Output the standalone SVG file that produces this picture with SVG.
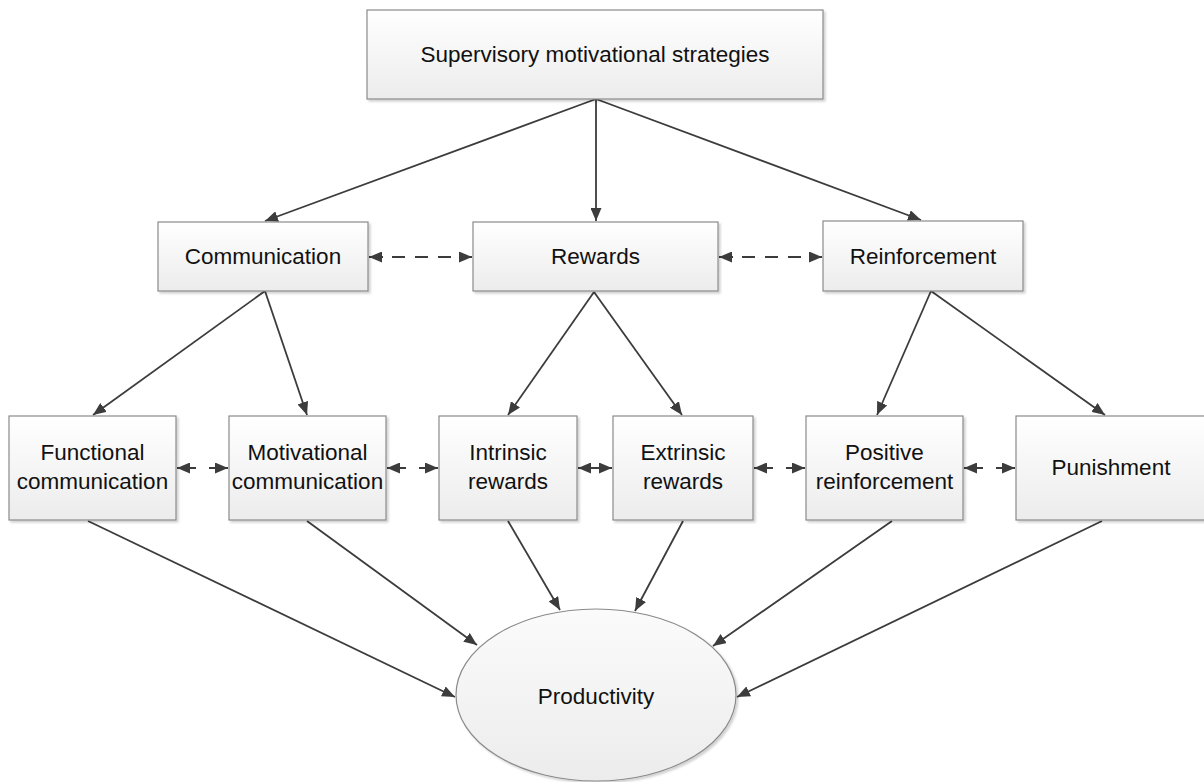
<svg xmlns="http://www.w3.org/2000/svg" width="1204" height="782" viewBox="0 0 1204 782">
<style>
.box{fill:url(#g);stroke:#8a8a8a;stroke-width:1.2;filter:url(#sh)}
.t{font-family:"Liberation Sans",Arial,sans-serif;font-size:22.5px;fill:#111111;text-anchor:middle}
.c{fill:none;stroke:#3c3c3c;stroke-width:1.8}
.a{marker-end:url(#ah)}
.d{marker-start:url(#ah);marker-end:url(#ah)}
</style>
<defs>
<linearGradient id="g" x1="0" y1="0" x2="0" y2="1">
<stop offset="0" stop-color="#ffffff"/>
<stop offset="1" stop-color="#ececec"/>
</linearGradient>
<linearGradient id="ge" x1="0" y1="0" x2="0" y2="1">
<stop offset="0" stop-color="#fbfbfb"/>
<stop offset="1" stop-color="#ececec"/>
</linearGradient>
<filter id="sh" x="-5%" y="-5%" width="115%" height="120%">
<feDropShadow dx="2" dy="2" stdDeviation="1" flood-color="#000" flood-opacity="0.18"/>
</filter>
<marker id="ah" viewBox="0 0 13 11" refX="13" refY="5.5" markerWidth="13" markerHeight="11" markerUnits="userSpaceOnUse" orient="auto-start-reverse">
<path d="M0,0 L13,5.5 L0,11 z" fill="#3c3c3c"/>
</marker>
</defs>
<g id="connectors">
<line class="c a" x1="596" y1="99" x2="265" y2="221"/>
<line class="c a" x1="596" y1="99" x2="596" y2="221"/>
<line class="c a" x1="596" y1="99" x2="921" y2="220"/>
<line class="c d" x1="369" y1="257" x2="472" y2="257" stroke-dasharray="14 9 13 10 13 10 13 9 14"/>
<line class="c d" x1="719" y1="257" x2="822" y2="257" stroke-dasharray="14 9 13 10 13 10 13 9 14"/>
<line class="c a" x1="265" y1="291" x2="93" y2="415"/>
<line class="c a" x1="265" y1="291" x2="307" y2="415"/>
<line class="c a" x1="594" y1="292" x2="508" y2="415"/>
<line class="c a" x1="594" y1="292" x2="682" y2="415"/>
<line class="c a" x1="931" y1="291" x2="877" y2="415"/>
<line class="c a" x1="931" y1="291" x2="1105" y2="415"/>
<line class="c d" x1="177" y1="468" x2="228" y2="468" stroke-dasharray="19 13 19"/>
<line class="c d" x1="387" y1="468" x2="438" y2="468" stroke-dasharray="19 13 19"/>
<line class="c d" x1="578" y1="468" x2="612" y2="468"/>
<line class="c d" x1="754" y1="468" x2="805" y2="468" stroke-dasharray="19 13 19"/>
<line class="c d" x1="964" y1="468" x2="1015" y2="468" stroke-dasharray="19 13 19"/>
<line class="c a" x1="88" y1="521" x2="455" y2="697"/>
<line class="c a" x1="307" y1="521" x2="477" y2="645"/>
<line class="c a" x1="508" y1="521" x2="560" y2="610"/>
<line class="c a" x1="683" y1="521" x2="635" y2="611"/>
<line class="c a" x1="892" y1="521" x2="713" y2="646"/>
<line class="c a" x1="1102" y1="521" x2="737" y2="697"/>
</g>
<g id="n-strategies">
<rect class="box" x="367" y="10" width="456" height="89"/>
<text class="t" x="595" y="62">Supervisory motivational strategies</text>
</g>
<g id="n-communication">
<rect class="box" x="158" y="222" width="210" height="69"/>
<text class="t" x="263" y="264">Communication</text>
</g>
<g id="n-rewards">
<rect class="box" x="473" y="222" width="245" height="69"/>
<text class="t" x="595.5" y="264">Rewards</text>
</g>
<g id="n-reinforcement">
<rect class="box" x="823" y="221" width="200" height="70"/>
<text class="t" x="923" y="264">Reinforcement</text>
</g>
<g id="n-functional">
<rect class="box" x="9" y="416" width="167" height="104"/>
<text class="t" x="92.5" y="460">Functional</text>
<text class="t" x="92.5" y="489">communication</text>
</g>
<g id="n-motivational">
<rect class="box" x="229" y="416" width="157" height="104"/>
<text class="t" x="307.5" y="460">Motivational</text>
<text class="t" x="307.5" y="489">communication</text>
</g>
<g id="n-intrinsic">
<rect class="box" x="439" y="416" width="138" height="104"/>
<text class="t" x="508" y="460">Intrinsic</text>
<text class="t" x="508" y="489">rewards</text>
</g>
<g id="n-extrinsic">
<rect class="box" x="613" y="416" width="140" height="104"/>
<text class="t" x="683" y="460">Extrinsic</text>
<text class="t" x="683" y="489">rewards</text>
</g>
<g id="n-positive">
<rect class="box" x="806" y="416" width="157" height="104"/>
<text class="t" x="884.5" y="460">Positive</text>
<text class="t" x="884.5" y="489">reinforcement</text>
</g>
<g id="n-punishment">
<rect class="box" x="1016" y="416" width="194" height="104"/>
<text class="t" x="1111" y="475">Punishment</text>
</g>
<g id="n-productivity">
<ellipse cx="596" cy="695" rx="140" ry="86" fill="url(#ge)" stroke="#8a8a8a" stroke-width="1.2" filter="url(#sh)"/>
<text class="t" x="596" y="704">Productivity</text>
</g>
</svg>
